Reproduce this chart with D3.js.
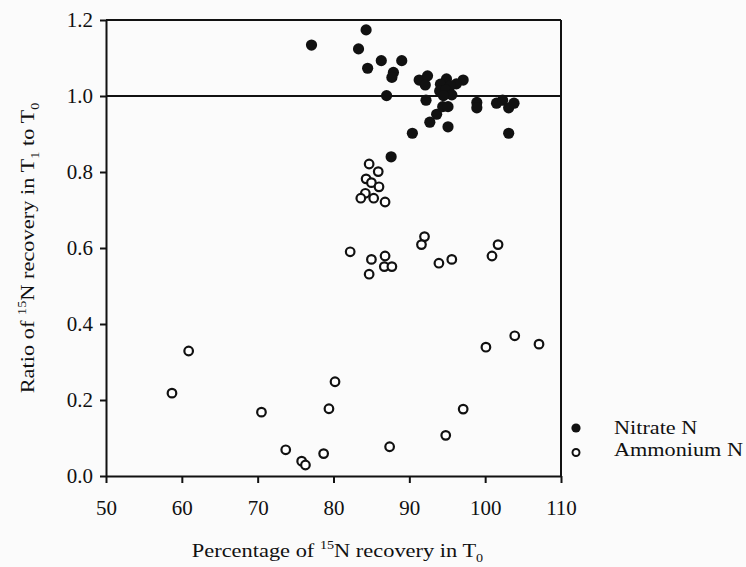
<!DOCTYPE html>
<html>
<head>
<meta charset="utf-8">
<script src="https://cdn.jsdelivr.net/npm/d3@7/dist/d3.min.js"></script>
<style>
  html, body { margin: 0; padding: 0; background: #fbfbfb; }
  svg { display: block; }
  text { font-family: "Liberation Serif", "Times New Roman", serif; fill: #111; }
</style>
</head>
<body>
<svg id="chart" width="746" height="567"></svg>
<script>
// ---- data ----
const nitrateX = [77.1, 84.3, 83.3, 84.5, 86.3, 89.0, 87.9, 87.7, 87.0, 91.3, 92.4, 92.1, 92.2,
  90.4, 92.7, 93.6, 94.4, 95.1, 95.1, 87.6, 94.9, 97.1, 96.2, 94.1, 95.4, 94.0, 94.8, 95.6, 94.5,
  98.9, 98.9, 101.5, 102.3, 103.1, 103.8, 103.1];
const nitrateY = [1.134, 1.174, 1.124, 1.073, 1.093, 1.093, 1.062, 1.049, 1.001, 1.042, 1.053, 1.029, 0.989,
  0.902, 0.931, 0.952, 0.972, 0.972, 0.919, 0.840, 1.045, 1.042, 1.032, 1.031, 1.027, 1.013, 1.016, 1.003, 1.001,
  0.983, 0.969, 0.981, 0.989, 0.969, 0.981, 0.902];
const ammoniumX = [58.7, 60.9, 70.5, 73.7, 75.8, 76.3, 78.7, 79.4, 80.2, 87.4, 94.8, 97.1, 100.1, 103.9, 107.1,
  84.7, 85.9, 84.3, 85.0, 86.0, 84.2, 83.6, 85.3, 86.8,
  82.2, 85.0, 86.8, 86.7, 87.7, 84.7, 92.0, 91.6, 93.9, 95.6, 101.7, 100.9];
const ammoniumY = [0.218, 0.329, 0.168, 0.069, 0.039, 0.029, 0.059, 0.177, 0.248, 0.077, 0.107, 0.176, 0.339, 0.369, 0.347,
  0.821, 0.801, 0.782, 0.772, 0.761, 0.744, 0.731, 0.731, 0.721,
  0.590, 0.570, 0.579, 0.551, 0.551, 0.531, 0.630, 0.609, 0.560, 0.570, 0.609, 0.579];
const xTicks = [50, 60, 70, 80, 90, 100, 110];
const yTicks = [0.0, 0.2, 0.4, 0.6, 0.8, 1.0, 1.2];
const referenceY = 1.0;
const legendLabels = ["Nitrate N", "Ammonium N"];

// ---- layout ----
const svg = d3.select("#chart");
const L = 106, R = 561, T = 20, B = 476;
const x = d3.scaleLinear().domain([50, 110]).range([L, R]);
const y = d3.scaleLinear().domain([0, 1.2]).range([B, T]);
const ink = "#111";
const tickSX = 1.05, titleSX = 1.18, legSX = 1.17;

// axes
const xAxis = d3.axisBottom(x).tickValues(xTicks).tickSize(7).tickSizeOuter(0).tickFormat(d3.format("d"));
const yAxis = d3.axisLeft(y).tickValues(yTicks).tickSize(6).tickSizeOuter(0).tickFormat(d3.format(".1f"));

const gx = svg.append("g").attr("transform", `translate(0,${B})`).call(xAxis);
const gy = svg.append("g").attr("transform", `translate(${L},0)`).call(yAxis);
[gx, gy].forEach(g => {
  g.select(".domain").attr("stroke", ink).attr("stroke-width", 2);
  g.selectAll(".tick line").attr("stroke", ink).attr("stroke-width", 2);
  g.selectAll(".tick text").attr("fill", ink).style("font-size", "20px")
    .style("font-family", '"Liberation Serif", "Times New Roman", serif')
    .attr("transform", `scale(${tickSX},1)`);
});
gx.selectAll(".tick text").attr("dy", "0").attr("y", 39);
gy.selectAll(".tick text").attr("x", -13 / tickSX).attr("dy", "0.34em");

// frame top & right
svg.append("line").attr("x1", L).attr("x2", R).attr("y1", T).attr("y2", T).attr("stroke", ink).attr("stroke-width", 2);
svg.append("line").attr("x1", R).attr("x2", R).attr("y1", T).attr("y2", B).attr("stroke", ink).attr("stroke-width", 2);

// reference line
svg.append("line").attr("x1", L).attr("x2", R).attr("y1", y(referenceY)).attr("y2", y(referenceY))
  .attr("stroke", ink).attr("stroke-width", 2);

// points
svg.append("g").selectAll("circle").data(ammoniumX.map((v, i) => [v, ammoniumY[i]])).join("circle")
  .attr("cx", d => x(d[0])).attr("cy", d => y(d[1])).attr("r", 4.3)
  .attr("fill", "#fff").attr("stroke", ink).attr("stroke-width", 2.2);
svg.append("g").selectAll("circle").data(nitrateX.map((v, i) => [v, nitrateY[i]])).join("circle")
  .attr("cx", d => x(d[0])).attr("cy", d => y(d[1])).attr("r", 5.6)
  .attr("fill", ink);

// legend
const lg = svg.append("g");
lg.append("circle").attr("cx", 576).attr("cy", 428).attr("r", 4.6).attr("fill", ink);
lg.append("circle").attr("cx", 576).attr("cy", 452.5).attr("r", 3.5).attr("fill", "#fff").attr("stroke", ink).attr("stroke-width", 2);
lg.append("g").attr("transform", `translate(614,434) scale(${legSX},1)`)
  .append("text").style("font-size", "19px").text(legendLabels[0]);
lg.append("g").attr("transform", `translate(614,456) scale(${legSX},1)`)
  .append("text").style("font-size", "19px").text(legendLabels[1]);

// x title
const xt = svg.append("g").attr("transform", `translate(${(L + R) / 2 + 4},557) scale(${titleSX},1)`)
  .append("text").attr("text-anchor", "middle").style("font-size", "19px");
xt.append("tspan").text("Percentage of ");
xt.append("tspan").attr("dy", -8).style("font-size", "12px").text("15");
xt.append("tspan").attr("dy", 8).text("N recovery in T");
xt.append("tspan").attr("dy", 5).style("font-size", "12px").text("0");

// y title
const yt = svg.append("g").attr("transform", `translate(34,${(T + B) / 2}) rotate(-90) scale(${titleSX},1)`)
  .append("text").attr("text-anchor", "middle").style("font-size", "19px");
yt.append("tspan").text("Ratio of ");
yt.append("tspan").attr("dy", -8).style("font-size", "12px").text("15");
yt.append("tspan").attr("dy", 8).text("N recovery in T");
yt.append("tspan").attr("dy", 5).style("font-size", "12px").text("1");
yt.append("tspan").attr("dy", -5).text(" to T");
yt.append("tspan").attr("dy", 5).style("font-size", "12px").text("0");
</script>
</body>
</html>
